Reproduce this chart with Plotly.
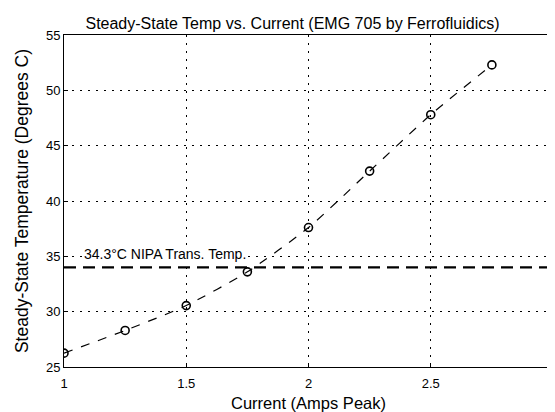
import plotly.graph_objects as go

current = [1.0, 1.25, 1.5, 1.75, 2.0, 2.25, 2.5, 2.75]
temperature = [26.25, 28.3, 30.55, 33.6, 37.6, 42.7, 47.8, 52.3]
transition_temp = 34.0
transition_label = "34.3°C NIPA Trans. Temp."
x_ticks = [1, 1.5, 2, 2.5, 3]
y_ticks = [25, 30, 35, 40, 45, 50, 55]

font = "Liberation Sans, Arial, Helvetica, sans-serif"

fig = go.Figure()
fig.add_trace(go.Scatter(
    x=current, y=temperature, mode="lines",
    line=dict(color="black", width=1.2, dash="9px,9px", shape="spline", smoothing=0.6),
    showlegend=False, hoverinfo="skip"))
fig.add_trace(go.Scatter(
    x=current, y=temperature, mode="markers",
    marker=dict(symbol="circle-open", size=8, color="black", line=dict(width=1.6)),
    showlegend=False))
fig.add_hline(y=transition_temp, line=dict(color="black", width=2.2, dash="12px,7px"))
fig.add_annotation(x=1.078, y=transition_temp, text=transition_label, showarrow=False,
                   xanchor="left", yanchor="bottom", yshift=4,
                   font=dict(family=font, size=14, color="black"), bgcolor="white",
                   borderpad=0)

axis_common = dict(showline=True, linecolor="black", linewidth=1, mirror=True,
                   showgrid=True, gridcolor="black", griddash="2px,6px", gridwidth=1,
                   zeroline=False, ticks="inside", ticklen=4, tickcolor="black",
                   automargin=False,
                   tickfont=dict(family=font, size=13, color="black"))

fig.update_xaxes(range=[1, 3], tickvals=x_ticks, ticktext=[str(t) for t in x_ticks],
                 ticklabelstandoff=4,
                 title=dict(text="Current (Amps Peak)", font=dict(family=font, size=16.5, color="black"), standoff=7),
                 **axis_common)
fig.update_yaxes(range=[25, 55], tickvals=y_ticks,
                 title=dict(text="Steady-State Temperature (Degrees C)", font=dict(family=font, size=17.5, color="black"), standoff=12),
                 **axis_common)

fig.update_layout(
    width=555, height=412,
    margin=dict(l=56, r=10, t=27, b=53, autoexpand=False),
    paper_bgcolor="white", plot_bgcolor="white",
    title=dict(text="Steady-State Temp vs. Current (EMG 705 by Ferrofluidics)",
               x=0.5126, xanchor="center", y=0.9636, yanchor="middle",
               font=dict(family=font, size=16, color="black")),
)

fig.write_html("out.html")
